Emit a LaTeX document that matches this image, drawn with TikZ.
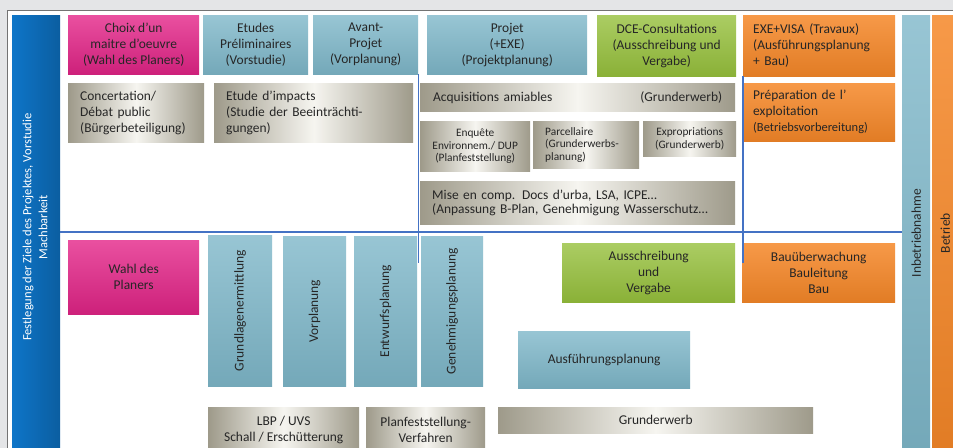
\documentclass[tikz,border=0pt]{standalone}
\usepackage{fontspec}
\setmainfont{Carlito}
\usepackage{graphicx}

\definecolor{hinter}{RGB}{228,229,231}
\definecolor{cBlau}{RGB}{126,183,201}
\definecolor{cRosa}{RGB}{228,36,136}
\definecolor{cGruen}{RGB}{150,192,60}
\definecolor{cOrange}{RGB}{245,135,40}
\definecolor{cBalken}{RGB}{14,117,200}
\definecolor{cGrauD}{RGB}{158,154,138}
\definecolor{cGrauL}{RGB}{246,245,240}
\definecolor{cLinie}{RGB}{68,114,196}

\tikzset{
  kasten/.style={anchor=north west, inner sep=0pt, align=center, text=black!85,
    font=\fontsize{13.5}{16}\selectfont},
  gr/.style 2 args={minimum width=#1bp, minimum height=#2bp},
  links/.style={align=left, inner xsep=12bp, text width=#1bp},
  klein/.style={font=\fontsize{11.4}{12.7}\selectfont},
  blau/.style={kasten, top color=cBlau!80!white, bottom color=cBlau!92!black},
  rosa/.style={kasten, top color=cRosa!80!white, bottom color=cRosa!90!black},
  gruen/.style={kasten, top color=cGruen!80!white, bottom color=cGruen!92!black},
  orng/.style={kasten, top color=cOrange!85!white, bottom color=cOrange!92!black},
  grau/.style={kasten, left color=cGrauD, right color=cGrauD, middle color=cGrauL},
  balken/.style={kasten, left color=cBalken, right color=cBalken!80!black, text=white,
    font=\fontsize{12.6}{16}\selectfont},
  trenn/.style={cLinie, line width=1.3bp}
}

\begin{document}
\begin{tikzpicture}[x=1bp, y=-1bp]
  % Rahmen
  \useasboundingbox (0,0) rectangle (953,448);
  \clip (0,0) rectangle (953,448);
  \fill[hinter] (0,0) rectangle (953,448);
  \filldraw[fill=white, draw=black!55, line width=1bp] (7,11) rectangle (980,480);

  % Balken links und rechts
  \node[balken, gr={48}{436}] (ziele) at (12,15)
    {\rotatebox{90}{\hspace*{12bp}\begin{tabular}{@{}c@{}}Festlegung der Ziele des Projektes, Vorstudie\\Machbarkeit\end{tabular}}};
  \node[blau, gr={28}{436}] (inbetr) at (902,15) {\rotatebox{90}{Inbetriebnahme}};
  \node[orng, gr={26}{436}] (betrieb) at (932,15) {\rotatebox{90}{Betrieb}};

  % Phasen (franz.)
  \node[rosa, gr={131}{59}] (choix) at (68,15) {Choix d’un\\maitre d’oeuvre\\(Wahl des Planers)};
  \node[blau, gr={105}{59}] (etudes) at (203,15) {Etudes\\Préliminaires\\(Vorstudie)};
  \node[blau, gr={105}{59}] (avp) at (313,15) {Avant-\\Projet\\(Vorplanung)};
  \node[blau, gr={160}{59}] (projet) at (427,15) {Projet\\(+EXE)\\(Projektplanung)};
  \node[gruen, gr={139}{61}] (dce) at (597,15) {DCE-Consultations\\(Ausschreibung und\\Vergabe)};
  \node[orng, gr={152}{61}, links=132, inner xsep=10bp] (exe) at (743,15)
    {EXE+VISA (Travaux)\\(Ausführungsplanung\\+ Bau)};

  % Verfahren (franz.)
  \node[grau, gr={136}{59}, links=112] (concert) at (68,83) {Concertation/\\Débat public\\(Bürgerbeteiligung)};
  \node[grau, gr={199}{59}, links=175] (impacts) at (214,83) {Etude d’impacts\\(Studie der Beeinträchti-\\gungen)};
  \node[grau, gr={315}{28}, links=289, inner xsep=13bp] (acqui) at (420,83)
    {Acquisitions amiables\hfill(Grunderwerb)};
  \node[grau, klein, gr={110}{50}] (enquete) at (420,121) {Enquête\\Environnem./ DUP\\(Planfeststellung)};
  \node[grau, klein, gr={106}{47}, links=82] (parcel) at (533,121) {Parcellaire\\(Grunderwerbs-\\planung)};
  \node[grau, klein, gr={93}{35}] (expro) at (643,121) {Expropriations\\(Grunderwerb)};
  \node[grau, gr={315}{43}, links=291, font=\fontsize{13.5}{14.5}\selectfont] (mise) at (420,181)
    {Mise en comp. Docs d’urba, LSA, ICPE…\\(Anpassung B-Plan, Genehmigung Wasserschutz…};
  \node[orng, gr={152}{58}, links=132, inner xsep=10bp] (prep) at (743,83)
    {Préparation de l’\\exploitation\\{\fontsize{12.5}{15}\selectfont(Betriebsvorbereitung)}};

  % Leistungsphasen (dt.)
  \node[rosa, gr={131}{74}] (wahl) at (68,240) {Wahl des\\Planers};
  \node[blau, gr={64}{151}] (grundl) at (208,235) {\rotatebox{90}{Grundlagenermittlung}};
  \node[blau, gr={63}{150}] (vorpl) at (283,236) {\rotatebox{90}{Vorplanung}};
  \node[blau, gr={63}{150}] (entw) at (354,236) {\rotatebox{90}{Entwurfsplanung}};
  \node[blau, gr={62}{150}] (genehm) at (421,236) {\rotatebox{90}{Genehmigungsplanung}};
  \node[gruen, gr={173}{59}] (aus) at (562,243) {Ausschreibung\\und\\Vergabe};
  \node[orng, gr={153}{59}] (bau) at (742,243) {Bauüberwachung\\Bauleitung\\Bau};
  \node[blau, gr={172}{57}] (ausf) at (518,331) {Ausführungsplanung};

  % Verfahren (dt.)
  \node[grau, gr={151}{45}] (lbp) at (208,407) {LBP / UVS\\Schall / Erschütterung};
  \node[grau, gr={119}{45}] (planf) at (366,407) {Planfeststellung-\\Verfahren};
  \node[grau, gr={315}{26}] (grunderw) at (498,407) {Grunderwerb};

  % Trennlinien
  \draw[trenn] (avp.south east) -- ++(0,189);
  \draw[trenn] (exe.south west) -- ++(0,187);
  \draw[trenn] (ziele.east |- 0,232) -- (inbetr.west |- 0,232);
\end{tikzpicture}
\end{document}
